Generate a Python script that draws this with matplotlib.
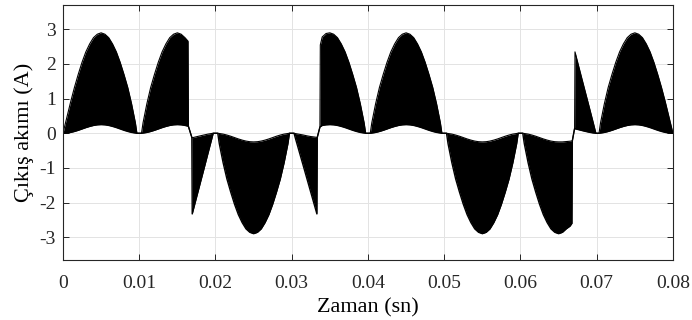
import numpy as np
import matplotlib
matplotlib.use('Agg')
import matplotlib.pyplot as plt

# zarf egrileri, okunan degerler (zaman ms)
t_ms = [0, 0.5, 1, 1.5, 2, 2.5, 3, 3.5, 4, 4.5, 5, 5.5, 6, 6.5, 7, 7.5, 8, 8.5, 9, 9.5, 9.7,
        10.3, 10.5, 11, 11.5, 12, 12.5, 13, 13.5, 14, 14.5, 15, 15.5, 16, 16.4,
        16.45, 16.7, 16.9,
        16.95, 17.5, 18, 18.5, 19, 19.5, 19.7,
        20.3, 20.5, 21, 21.5, 22, 22.5, 23, 23.5, 24, 24.5, 25, 25.5, 26, 26.5, 27, 27.5, 28, 28.5, 29, 29.5, 29.7,
        30.3, 30.5, 31, 31.5, 32, 32.5, 33, 33.3,
        33.35, 33.7,
        33.75, 34, 34.5, 35, 35.5, 36, 36.5, 37, 37.5, 38, 38.5, 39, 39.5, 39.7,
        40.3, 40.5, 41, 41.5, 42, 42.5, 43, 43.5, 44, 44.5, 45, 45.5, 46, 46.5, 47, 47.5, 48, 48.5, 49, 49.5, 49.7,
        50.3, 50.5, 51, 51.5, 52, 52.5, 53, 53.5, 54, 54.5, 55, 55.5, 56, 56.5, 57, 57.5, 58, 58.5, 59, 59.5, 59.7,
        60.3, 60.5, 61, 61.5, 62, 62.5, 63, 63.5, 64, 64.5, 65, 65.5, 66, 66.5, 66.75,
        66.8, 67.1,
        67.15, 67.5, 68, 68.5, 69, 69.5, 69.9,
        70.3, 70.5, 71, 71.5, 72, 72.5, 73, 73.5, 74, 74.5, 75, 75.5, 76, 76.5, 77, 77.5, 78, 78.5, 79, 79.5, 80]

i_ust = [0, .45, .90, 1.32, 1.70, 2.05, 2.35, 2.58, 2.76, 2.86, 2.90, 2.86, 2.76, 2.58, 2.35, 2.05, 1.70, 1.32, .85, .30, 0,
         0, .30, .85, 1.32, 1.70, 2.05, 2.35, 2.58, 2.76, 2.86, 2.90, 2.86, 2.76, 2.66,
         .20, .02, -.12,
         -.13, -.10, -.075, -.05, -.025, -.006, 0,
         0, -.006, -.024, -.052, -.086, -.125, -.164, -.198, -.226, -.244, -.25, -.244, -.226, -.198, -.164, -.125, -.086, -.052, -.024, -.006, 0,
         0, -.01, -.03, -.05, -.075, -.095, -.11, -.12,
         -.12, .18,
         2.55, 2.78, 2.88, 2.90, 2.86, 2.76, 2.58, 2.35, 2.05, 1.70, 1.32, .85, .30, 0,
         0, .30, .85, 1.32, 1.70, 2.05, 2.35, 2.58, 2.76, 2.86, 2.90, 2.86, 2.76, 2.58, 2.35, 2.05, 1.70, 1.32, .85, .30, 0,
         0, -.006, -.024, -.052, -.086, -.125, -.164, -.198, -.226, -.244, -.25, -.244, -.226, -.198, -.164, -.125, -.086, -.052, -.024, -.006, 0,
         0, -.006, -.024, -.052, -.086, -.125, -.164, -.198, -.226, -.244, -.25, -.25, -.24, -.23, -.22,
         -.22, .14,
         2.35, 2.05, 1.62, 1.20, .78, .35, 0,
         0, .30, .85, 1.32, 1.70, 2.05, 2.35, 2.58, 2.76, 2.86, 2.90, 2.86, 2.76, 2.58, 2.35, 2.05, 1.70, 1.32, .90, .45, 0]

i_alt = [0, .006, .024, .052, .086, .125, .164, .198, .226, .244, .25, .244, .226, .198, .164, .125, .086, .052, .024, .006, 0,
         0, .006, .024, .052, .086, .125, .164, .198, .226, .244, .25, .244, .226, .205,
         .20, .02, -.12,
         -2.33, -1.86, -1.44, -1.02, -.59, -.17, 0,
         0, -.30, -.85, -1.32, -1.70, -2.05, -2.35, -2.58, -2.76, -2.86, -2.90, -2.86, -2.76, -2.58, -2.35, -2.05, -1.70, -1.32, -.85, -.30, 0,
         0, -.16, -.54, -.93, -1.32, -1.71, -2.10, -2.33,
         -.12, .18,
         .19, .226, .244, .25, .244, .226, .198, .164, .125, .086, .052, .024, .006, 0,
         0, .006, .024, .052, .086, .125, .164, .198, .226, .244, .25, .244, .226, .198, .164, .125, .086, .052, .024, .006, 0,
         0, -.30, -.85, -1.32, -1.70, -2.05, -2.35, -2.58, -2.76, -2.86, -2.90, -2.86, -2.76, -2.58, -2.35, -2.05, -1.70, -1.32, -.85, -.30, 0,
         0, -.30, -.85, -1.32, -1.70, -2.05, -2.35, -2.58, -2.76, -2.86, -2.90, -2.86, -2.76, -2.68, -2.60,
         -.22, .14,
         .13, .11, .08, .055, .03, .01, 0,
         0, .006, .024, .052, .086, .125, .164, .198, .226, .244, .25, .244, .226, .198, .164, .125, .086, .052, .024, .006, 0]

x_ticks = [0, 0.01, 0.02, 0.03, 0.04, 0.05, 0.06, 0.07, 0.08]
y_ticks = [-3, -2, -1, 0, 1, 2, 3]

plt.rcParams['font.family'] = ['Liberation Serif', 'DejaVu Serif']
plt.rcParams['axes.unicode_minus'] = False

t = np.array(t_ms) / 1000.0
ust = np.array(i_ust)
alt = np.array(i_alt)

fig = plt.figure(figsize=(6.92, 3.2), dpi=100)
ax = fig.add_axes([0.091, 0.1875, 0.8815, 0.7965])

ax.fill_between(t, alt, ust, color='black', linewidth=0)
ax.plot(t, ust, color='black', linewidth=0.8)
ax.plot(t, alt, color='black', linewidth=1.0)

ax.set_xlim(0, 0.08)
ax.set_ylim(-3.66, 3.70)
ax.set_xticks(x_ticks)
ax.set_xticklabels(['%g' % v for v in x_ticks])
ax.set_yticks(y_ticks)
ax.set_yticklabels(['%g' % v for v in y_ticks])

ax.grid(True, color='#e3e3e3', linewidth=0.7)
ax.set_axisbelow(True)
ax.tick_params(direction='in', length=4.5, width=0.7, top=True, right=True,
               labelsize=14, colors='#262626')
ax.tick_params(axis='x', pad=11)
ax.tick_params(axis='y', pad=5)
for s in ax.spines.values():
    s.set_color('#262626')
    s.set_linewidth(0.8)

ax.set_xlabel('Zaman (sn)', fontsize=16, labelpad=4)
ax.set_ylabel('Çıkış akımı (A)', fontsize=16, labelpad=4)

fig.savefig('out.png', dpi=100)
